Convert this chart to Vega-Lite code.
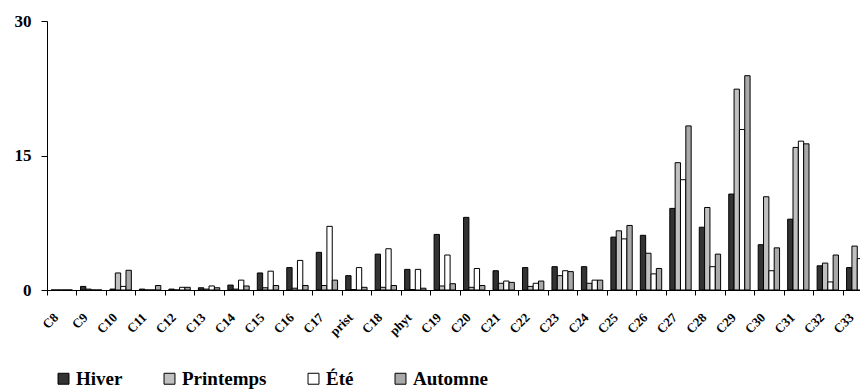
{
  "$schema": "https://vega.github.io/schema/vega-lite/v6.json",
  "autosize": {"type": "none"},
  "padding": {"left": 47, "top": 21, "right": 0, "bottom": 100},
  "width": 813,
  "height": 269,
  "background": "white",
  "config": {
    "view": {"stroke": null},
    "font": "Liberation Serif"
  },
  "data": {
    "values": [
      {"c": "C8", "s": "Hiver", "v": 0}, {"c": "C8", "s": "Printemps", "v": 0}, {"c": "C8", "s": "Été", "v": 0}, {"c": "C8", "s": "Automne", "v": 0},
      {"c": "C9", "s": "Hiver", "v": 0.4}, {"c": "C9", "s": "Printemps", "v": 0.1}, {"c": "C9", "s": "Été", "v": 0}, {"c": "C9", "s": "Automne", "v": 0},
      {"c": "C10", "s": "Hiver", "v": 0.1}, {"c": "C10", "s": "Printemps", "v": 1.9}, {"c": "C10", "s": "Été", "v": 0.4}, {"c": "C10", "s": "Automne", "v": 2.2},
      {"c": "C11", "s": "Hiver", "v": 0.1}, {"c": "C11", "s": "Printemps", "v": 0}, {"c": "C11", "s": "Été", "v": 0}, {"c": "C11", "s": "Automne", "v": 0.5},
      {"c": "C12", "s": "Hiver", "v": 0.1}, {"c": "C12", "s": "Printemps", "v": 0}, {"c": "C12", "s": "Été", "v": 0.3}, {"c": "C12", "s": "Automne", "v": 0.3},
      {"c": "C13", "s": "Hiver", "v": 0.25}, {"c": "C13", "s": "Printemps", "v": 0.1}, {"c": "C13", "s": "Été", "v": 0.45}, {"c": "C13", "s": "Automne", "v": 0.25},
      {"c": "C14", "s": "Hiver", "v": 0.55}, {"c": "C14", "s": "Printemps", "v": 0.1}, {"c": "C14", "s": "Été", "v": 1.1}, {"c": "C14", "s": "Automne", "v": 0.45},
      {"c": "C15", "s": "Hiver", "v": 1.9}, {"c": "C15", "s": "Printemps", "v": 0.25}, {"c": "C15", "s": "Été", "v": 2.1}, {"c": "C15", "s": "Automne", "v": 0.5},
      {"c": "C16", "s": "Hiver", "v": 2.5}, {"c": "C16", "s": "Printemps", "v": 0.2}, {"c": "C16", "s": "Été", "v": 3.3}, {"c": "C16", "s": "Automne", "v": 0.5},
      {"c": "C17", "s": "Hiver", "v": 4.2}, {"c": "C17", "s": "Printemps", "v": 0.5}, {"c": "C17", "s": "Été", "v": 7.1}, {"c": "C17", "s": "Automne", "v": 1.1},
      {"c": "prist", "s": "Hiver", "v": 1.6}, {"c": "prist", "s": "Printemps", "v": 0.05}, {"c": "prist", "s": "Été", "v": 2.5}, {"c": "prist", "s": "Automne", "v": 0.3},
      {"c": "C18", "s": "Hiver", "v": 4.0}, {"c": "C18", "s": "Printemps", "v": 0.3}, {"c": "C18", "s": "Été", "v": 4.6}, {"c": "C18", "s": "Automne", "v": 0.5},
      {"c": "phyt", "s": "Hiver", "v": 2.3}, {"c": "phyt", "s": "Printemps", "v": 0.05}, {"c": "phyt", "s": "Été", "v": 2.3}, {"c": "phyt", "s": "Automne", "v": 0.2},
      {"c": "C19", "s": "Hiver", "v": 6.2}, {"c": "C19", "s": "Printemps", "v": 0.45}, {"c": "C19", "s": "Été", "v": 3.9}, {"c": "C19", "s": "Automne", "v": 0.7},
      {"c": "C20", "s": "Hiver", "v": 8.1}, {"c": "C20", "s": "Printemps", "v": 0.3}, {"c": "C20", "s": "Été", "v": 2.4}, {"c": "C20", "s": "Automne", "v": 0.5},
      {"c": "C21", "s": "Hiver", "v": 2.15}, {"c": "C21", "s": "Printemps", "v": 0.75}, {"c": "C21", "s": "Été", "v": 1.0}, {"c": "C21", "s": "Automne", "v": 0.85},
      {"c": "C22", "s": "Hiver", "v": 2.5}, {"c": "C22", "s": "Printemps", "v": 0.4}, {"c": "C22", "s": "Été", "v": 0.75}, {"c": "C22", "s": "Automne", "v": 1.0},
      {"c": "C23", "s": "Hiver", "v": 2.6}, {"c": "C23", "s": "Printemps", "v": 1.6}, {"c": "C23", "s": "Été", "v": 2.15}, {"c": "C23", "s": "Automne", "v": 2.05},
      {"c": "C24", "s": "Hiver", "v": 2.6}, {"c": "C24", "s": "Printemps", "v": 0.75}, {"c": "C24", "s": "Été", "v": 1.1}, {"c": "C24", "s": "Automne", "v": 1.1},
      {"c": "C25", "s": "Hiver", "v": 5.9}, {"c": "C25", "s": "Printemps", "v": 6.6}, {"c": "C25", "s": "Été", "v": 5.7}, {"c": "C25", "s": "Automne", "v": 7.2},
      {"c": "C26", "s": "Hiver", "v": 6.1}, {"c": "C26", "s": "Printemps", "v": 4.1}, {"c": "C26", "s": "Été", "v": 1.8}, {"c": "C26", "s": "Automne", "v": 2.4},
      {"c": "C27", "s": "Hiver", "v": 9.1}, {"c": "C27", "s": "Printemps", "v": 14.2}, {"c": "C27", "s": "Été", "v": 12.3}, {"c": "C27", "s": "Automne", "v": 18.3},
      {"c": "C28", "s": "Hiver", "v": 7.0}, {"c": "C28", "s": "Printemps", "v": 9.2}, {"c": "C28", "s": "Été", "v": 2.6}, {"c": "C28", "s": "Automne", "v": 4.0},
      {"c": "C29", "s": "Hiver", "v": 10.7}, {"c": "C29", "s": "Printemps", "v": 22.4}, {"c": "C29", "s": "Été", "v": 17.9}, {"c": "C29", "s": "Automne", "v": 23.9},
      {"c": "C30", "s": "Hiver", "v": 5.05}, {"c": "C30", "s": "Printemps", "v": 10.4}, {"c": "C30", "s": "Été", "v": 2.15}, {"c": "C30", "s": "Automne", "v": 4.7},
      {"c": "C31", "s": "Hiver", "v": 7.9}, {"c": "C31", "s": "Printemps", "v": 15.9}, {"c": "C31", "s": "Été", "v": 16.6}, {"c": "C31", "s": "Automne", "v": 16.3},
      {"c": "C32", "s": "Hiver", "v": 2.7}, {"c": "C32", "s": "Printemps", "v": 3.0}, {"c": "C32", "s": "Été", "v": 0.9}, {"c": "C32", "s": "Automne", "v": 3.9},
      {"c": "C33", "s": "Hiver", "v": 2.5}, {"c": "C33", "s": "Printemps", "v": 4.9}, {"c": "C33", "s": "Été", "v": 3.5}
    ]
  },
  "mark": {"type": "bar", "stroke": "black", "strokeWidth": 1},
  "encoding": {
    "x": {
      "field": "c",
      "type": "nominal",
      "scale": {
        "domain": ["C8","C9","C10","C11","C12","C13","C14","C15","C16","C17","prist","C18","phyt","C19","C20","C21","C22","C23","C24","C25","C26","C27","C28","C29","C30","C31","C32","C33"],
        "range": [0, 825],
        "paddingInner": 0,
        "paddingOuter": 0
      },
      "axis": {
        "title": null,
        "domainColor": "black",
        "domainWidth": 1,
        "tickColor": "black",
        "tickSize": 5,
        "tickBand": "extent",
        "labelAngle": -45,
        "labelAlign": "right",
        "labelBaseline": "middle",
        "labelOffset": -6,
        "labelPadding": 20,
        "labelFont": "Liberation Serif",
        "labelFontWeight": "bold",
        "labelFontSize": 13,
        "labelColor": "black",
        "labelOverlap": false
      }
    },
    "xOffset": {
      "field": "s",
      "type": "nominal",
      "scale": {"domain": ["Hiver", "Printemps", "Été", "Automne"], "paddingInner": 0, "paddingOuter": 0.76}
    },
    "y": {
      "field": "v",
      "type": "quantitative",
      "scale": {"domain": [0, 30], "nice": false},
      "axis": {
        "title": null,
        "values": [0, 15, 30],
        "grid": false,
        "domainColor": "black",
        "tickColor": "black",
        "tickSize": 6,
        "labelPadding": 10,
        "labelFont": "Liberation Serif",
        "labelFontWeight": "bold",
        "labelFontSize": 17,
        "labelColor": "black"
      }
    },
    "fill": {
      "field": "s",
      "type": "nominal",
      "scale": {"domain": ["Hiver", "Printemps", "Été", "Automne"], "range": ["#333333", "#c0c0c0", "#ffffff", "#a9a9a9"]},
      "legend": {
        "title": null,
        "orient": "none",
        "direction": "horizontal",
        "columns": 4,
        "legendX": 7,
        "legendY": 348,
        "columnPadding": 37,
        "symbolType": "square",
        "symbolSize": 120,
        "symbolStrokeColor": "black",
        "symbolStrokeWidth": 1,
        "labelFont": "Liberation Serif",
        "labelFontWeight": "bold",
        "labelFontSize": 19,
        "labelColor": "black",
        "labelOffset": 3
      }
    }
  }
}
